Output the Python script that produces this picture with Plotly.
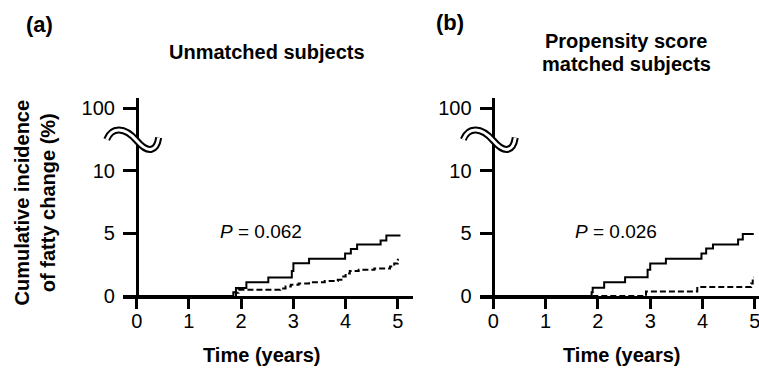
import plotly.graph_objects as go

# ---------------- data ----------------
# Panel (a): unmatched subjects
t_a_solid = [0, 1.85, 1.9, 2.1, 2.52, 2.97, 3.0, 3.3, 3.99, 4.1, 4.22, 4.67, 4.78, 5.05]
v_a_solid = [0, 0.3, 0.64, 1.09, 1.47, 2.0, 2.62, 2.97, 3.4, 3.75, 4.1, 4.42, 4.82, 4.82]
t_a_dash = [0, 1.9, 1.95, 2.75, 2.85, 2.95, 3.1, 3.3, 3.6, 3.85, 3.92, 4.0, 4.08, 4.25, 4.55, 4.85, 4.93, 5.0, 5.02]
v_a_dash = [0, 0.25, 0.5, 0.6, 0.75, 0.9, 1.0, 1.1, 1.2, 1.3, 1.55, 1.8, 2.0, 2.1, 2.2, 2.35, 2.6, 2.9, 2.9]

# Panel (b): propensity score matched subjects
t_b_solid = [0, 1.88, 1.9, 2.12, 2.52, 2.95, 3.0, 3.3, 3.98, 4.07, 4.2, 4.68, 4.77, 4.98]
v_b_solid = [0, 0.3, 0.66, 1.1, 1.5, 2.1, 2.6, 2.98, 3.4, 3.8, 4.1, 4.5, 4.95, 4.95]
t_b_dash = [0, 2.92, 3.9, 4.93, 4.96, 4.98]
v_b_dash = [0, 0.35, 0.72, 1.0, 1.5, 1.5]

x_tickvals = [0, 1, 2, 3, 4, 5]
y_tickvals = [0, 5, 10, 15]
y_ticktext = ["0", "5", "10", "100"]
p_values = ["0.062", "0.026"]
panel_titles = ["Unmatched subjects", "Propensity score", "matched subjects"]

# ---------------- layout constants ----------------
W, H = 759, 370
M_T, M_B = 98, 74
PH = H - M_T - M_B
FONT = "Arial, Liberation Sans, sans-serif"

XR_A = [-0.268, 5.29]
XR_B = [-0.254, 5.08]
YMAX = 15.8
DOM_A = [122.7 / W, 413.0 / W]
DOM_B = [480.0 / W, 1.0]


def zero_pos(dom, rng):
    return dom[0] + (0 - rng[0]) / (rng[1] - rng[0]) * (dom[1] - dom[0])


POS_A = zero_pos(DOM_A, XR_A)
POS_B = zero_pos(DOM_B, XR_B)

fig = go.Figure()
line_solid = dict(color="black", width=2, shape="hv")
line_dash = dict(color="black", width=2, shape="hv", dash="6px,3px")
fig.add_trace(go.Scatter(x=t_a_solid, y=v_a_solid, mode="lines", line=line_solid, xaxis="x", yaxis="y"))
fig.add_trace(go.Scatter(x=t_a_dash, y=v_a_dash, mode="lines", line=line_dash, xaxis="x", yaxis="y"))
fig.add_trace(go.Scatter(x=t_b_solid, y=v_b_solid, mode="lines", line=line_solid, xaxis="x2", yaxis="y2"))
fig.add_trace(go.Scatter(x=t_b_dash, y=v_b_dash, mode="lines", line=line_dash, xaxis="x2", yaxis="y2"))

tickfont = dict(family=FONT, size=20, color="black")
xcommon = dict(showgrid=False, zeroline=False, showline=True, linecolor="black", linewidth=2.5,
               ticks="outside", ticklen=10, tickwidth=2.5, tickcolor="black",
               tickvals=x_tickvals, tickfont=tickfont, fixedrange=True,
               ticklabeloverflow="allow", ticklabelstandoff=-5)
ycommon = dict(showgrid=False, zeroline=False, showline=True, linecolor="black", linewidth=2.5,
               ticks="outside", ticklen=13, tickwidth=2.5, tickcolor="black",
               tickvals=y_tickvals, ticktext=y_ticktext, tickfont=tickfont,
               range=[0, YMAX], anchor="free", fixedrange=True, ticklabelstandoff=4)

fig.update_layout(
    width=W, height=H, margin=dict(l=0, r=0, t=M_T, b=M_B),
    plot_bgcolor="white", paper_bgcolor="white", showlegend=False,
    xaxis=dict(xcommon, domain=DOM_A, range=XR_A, anchor="y"),
    xaxis2=dict(xcommon, domain=DOM_B, range=XR_B, anchor="y2"),
    yaxis=dict(ycommon, position=POS_A),
    yaxis2=dict(ycommon, position=POS_B),
)


def py(px):
    """pixel y (from top) -> paper y"""
    return (H - M_B - px) / PH


anns = []
bold = lambda s: "<b>" + s + "</b>"
anns.append(dict(text=bold("(a)"), x=39 / W, y=py(25), font=dict(size=22)))
anns.append(dict(text=bold("(b)"), x=450 / W, y=py(23), font=dict(size=22)))
anns.append(dict(text=bold(panel_titles[0]), x=267 / W, y=py(52), font=dict(size=20)))
anns.append(dict(text=bold(panel_titles[1]), x=626 / W, y=py(41), font=dict(size=20)))
anns.append(dict(text=bold(panel_titles[2]), x=626 / W, y=py(64), font=dict(size=20)))
anns.append(dict(text=bold("Time (years)"), x=261 / W, y=py(355), font=dict(size=20)))
anns.append(dict(text=bold("Time (years)"), x=621 / W, y=py(355), font=dict(size=20)))
anns.append(dict(text=bold("Cumulative incidence<br>of fatty change (%)"), x=34 / W, y=py(202.5),
                 textangle=-90, font=dict(size=20)))
for a in anns:
    a.update(xref="paper", yref="paper", showarrow=False, xanchor="center", yanchor="middle")
    a["font"].update(family=FONT, color="black")

anns.append(dict(text="<i>P</i> = " + p_values[0], x=1.56, y=5.13, xref="x", yref="y",
                 showarrow=False, xanchor="left", yanchor="middle",
                 font=dict(family=FONT, size=19, color="black")))
anns.append(dict(text="<i>P</i> = " + p_values[1], x=1.52, y=5.13, xref="x2", yref="y2",
                 showarrow=False, xanchor="left", yanchor="middle",
                 font=dict(family=FONT, size=19, color="black")))
fig.update_layout(annotations=anns)

# axis-break symbol (double wavy line) drawn across each y axis
BREAK_Y = 12.4
wave = [("M", -30, -1), ("C", -25, -14), ("", -12, -14), ("", 0, 0),
        ("C", 12, 14), ("", 20, 10), ("", 22, -3)]


def wave_path(pos):
    cx = pos
    cy = BREAK_Y / YMAX
    parts = []
    for cmd, dx, dy in wave:
        parts.append(f"{cmd}{cx + dx / W:.5f},{cy - dy / PH:.5f}")
    return " ".join(parts)


shapes = []
for pos in (POS_A, POS_B):
    p = wave_path(pos)
    shapes.append(dict(type="path", path=p, xref="paper", yref="paper",
                       line=dict(color="black", width=7), layer="above"))
    shapes.append(dict(type="path", path=p, xref="paper", yref="paper",
                       line=dict(color="white", width=3), layer="above"))
fig.update_layout(shapes=shapes)

fig.write_html("out.html", config={"displayModeBar": False},
               post_script="document.body.style.margin='0';document.body.style.overflow='hidden';")
